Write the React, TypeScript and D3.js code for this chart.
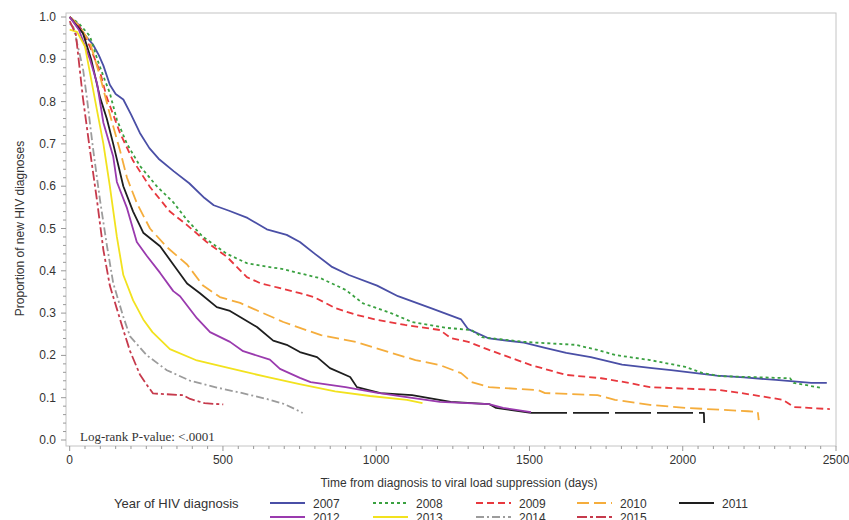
import React from 'react';
import * as d3 from 'd3';

type Pt = [number, number];

const years = ['2007', '2008', '2009', '2010', '2011', '2012', '2013', '2014', '2015'];

const s2007: Pt[] = [[0,1],[25,0.985],[50,0.957],[76,0.935],[95,0.91],[110,0.885],[131,0.84],[150,0.818],[175,0.805],[200,0.77],[229,0.726],[260,0.69],[290,0.665],[340,0.635],[390,0.607],[440,0.572],[470,0.555],[520,0.542],[580,0.525],[643,0.498],[708,0.485],[751,0.468],[800,0.44],[854,0.41],[911,0.39],[1003,0.365],[1071,0.34],[1185,0.31],[1277,0.285],[1300,0.262],[1322,0.255],[1368,0.24],[1482,0.23],[1551,0.218],[1620,0.206],[1700,0.196],[1802,0.178],[1900,0.17],[1962,0.165],[2111,0.152],[2200,0.148],[2304,0.142],[2419,0.135],[2470,0.135]];
const s2008: Pt[] = [[0,1],[30,0.985],[66,0.955],[90,0.9],[110,0.86],[131,0.82],[154,0.757],[187,0.7],[229,0.648],[284,0.6],[338,0.562],[383,0.52],[435,0.48],[513,0.44],[578,0.418],[640,0.41],[697,0.404],[751,0.394],[820,0.382],[900,0.355],[957,0.323],[1048,0.3],[1117,0.279],[1231,0.265],[1311,0.26],[1345,0.243],[1482,0.232],[1551,0.229],[1650,0.225],[1722,0.213],[1779,0.201],[1893,0.189],[2008,0.173],[2065,0.158],[2122,0.151],[2350,0.146],[2362,0.135],[2454,0.123]];
const s2009: Pt[] = [[0,1],[30,0.98],[66,0.93],[99,0.87],[121,0.81],[164,0.726],[207,0.66],[262,0.598],[327,0.54],[383,0.508],[447,0.468],[513,0.433],[578,0.385],[621,0.371],[680,0.36],[751,0.347],[797,0.338],[866,0.312],[934,0.296],[1003,0.284],[1094,0.272],[1208,0.26],[1243,0.241],[1300,0.232],[1368,0.213],[1460,0.189],[1505,0.177],[1619,0.154],[1734,0.146],[1825,0.135],[1893,0.125],[2122,0.118],[2190,0.111],[2327,0.095],[2362,0.078],[2480,0.073]];
const s2010: Pt[] = [[0,1],[30,0.98],[66,0.94],[99,0.86],[131,0.77],[164,0.685],[187,0.62],[219,0.56],[262,0.5],[317,0.456],[383,0.415],[435,0.365],[490,0.338],[556,0.324],[631,0.3],[697,0.279],[751,0.265],[820,0.248],[934,0.232],[1048,0.206],[1128,0.189],[1208,0.177],[1277,0.158],[1311,0.137],[1368,0.125],[1528,0.118],[1551,0.111],[1722,0.106],[1779,0.095],[1893,0.083],[2008,0.076],[2213,0.068],[2245,0.066],[2248,0.047]];
const s2011: Pt[] = [[0,1],[43,0.962],[70,0.9],[99,0.81],[121,0.76],[142,0.7],[175,0.6],[207,0.54],[240,0.49],[295,0.458],[338,0.415],[383,0.37],[425,0.347],[480,0.314],[523,0.305],[556,0.291],[611,0.267],[664,0.235],[708,0.225],[751,0.208],[807,0.196],[849,0.17],[915,0.149],[937,0.125],[1014,0.111],[1117,0.106],[1243,0.09],[1368,0.085],[1391,0.076],[1505,0.064],[2069,0.064],[2070,0.04]];
const s2012: Pt[] = [[0,1],[30,0.97],[66,0.9],[89,0.844],[110,0.75],[142,0.67],[154,0.61],[187,0.548],[219,0.468],[252,0.435],[295,0.395],[338,0.352],[360,0.34],[415,0.288],[458,0.255],[523,0.232],[566,0.21],[653,0.19],[686,0.168],[751,0.147],[786,0.137],[900,0.125],[1000,0.112],[1094,0.102],[1208,0.09],[1368,0.085],[1414,0.076],[1505,0.066]];
const s2013: Pt[] = [[0,0.97],[24,0.965],[50,0.93],[76,0.83],[89,0.78],[110,0.7],[131,0.6],[154,0.48],[175,0.39],[207,0.33],[240,0.285],[270,0.255],[327,0.215],[415,0.188],[490,0.175],[566,0.162],[650,0.148],[750,0.132],[866,0.115],[980,0.104],[1100,0.095],[1151,0.087]];
const s2014: Pt[] = [[0,0.985],[12,0.976],[43,0.88],[56,0.81],[76,0.69],[99,0.567],[121,0.462],[142,0.371],[175,0.291],[197,0.245],[252,0.2],[317,0.165],[393,0.14],[480,0.124],[556,0.112],[643,0.097],[700,0.085],[741,0.071],[760,0.064]];
const s2015: Pt[] = [[0,0.99],[20,0.96],[43,0.81],[66,0.686],[89,0.567],[110,0.449],[131,0.365],[154,0.31],[175,0.26],[197,0.21],[229,0.155],[252,0.13],[272,0.11],[370,0.106],[393,0.097],[440,0.087],[501,0.084]];

const seriesList: Pt[][] = [s2007, s2008, s2009, s2010, s2011, s2012, s2013, s2014, s2015];
const colors = ['#4a4fa6', '#3aa140', '#e8383e', '#f5ad3c', '#1e1e1e', '#9a3aae', '#f2e21e', '#9c9c9c', '#c63a4c'];
const dashes = ['', '3,3', '7,4', '12,5', '', '', '', '8,3,2,3', '10,3,3,3'];
// day after which the 2011 curve is drawn with long dashes, as in the source figure
const sparseFrom2011 = 1505;

const xTicks = [0, 500, 1000, 1500, 2000, 2500];
const yTicks = [0, 0.1, 0.2, 0.3, 0.4, 0.5, 0.6, 0.7, 0.8, 0.9, 1.0];
const legendTextX = [313, 416, 519, 620, 722];

export default function App() {
  const x = d3.scaleLinear().domain([-12, 2500]).range([66, 836]);
  const y = d3.scaleLinear().domain([0, 1]).range([440, 17]);
  const line = d3.line<Pt>().x(d => x(d[0])).y(d => y(d[1])).curve(d3.curveLinear);
  const left = 66, right = 836, top = 13, bottom = 446;
  const minorX = d3.range(0, 2501, 50);
  const minorY = d3.range(0, 1.001, 0.02);
  const font = "'Liberation Sans', Arial, sans-serif";
  const textColor = '#333';

  const paths = seriesList.map((s, i) => {
    if (i === 4) {
      const head = s.filter(d => d[0] <= sparseFrom2011);
      const tail = s.filter(d => d[0] >= sparseFrom2011);
      return [
        { d: line(head) || '', dash: '' },
        { d: line(tail) || '', dash: '36,6' },
      ];
    }
    return [{ d: line(s) || '', dash: dashes[i] }];
  });

  return (
    <div style={{ position: 'absolute', left: 0, top: 0 }}>
      <svg width={849} height={520} style={{ display: 'block', background: '#fff' }}>
        <rect x={left} y={top} width={right - left} height={bottom - top} fill="#fff" stroke="#c4c4c4" strokeWidth={1} />
        {minorX.map(t => (
          <line key={'mx' + t} x1={x(t)} x2={x(t)} y1={bottom} y2={bottom + (t % 500 === 0 ? 5 : 3)} stroke="#999" strokeWidth={1} />
        ))}
        {minorY.map((t, i) => (
          <line key={'my' + i} x1={left} x2={left - (i % 5 === 0 ? 5 : 3)} y1={y(t)} y2={y(t)} stroke="#999" strokeWidth={1} />
        ))}
        {xTicks.map(t => (
          <text key={'xt' + t} x={x(t)} y={464} textAnchor="middle" fontFamily={font} fontSize={12} fill={textColor}>{t}</text>
        ))}
        {yTicks.map(t => (
          <text key={'yt' + t} x={56} y={y(t) + 4} textAnchor="end" fontFamily={font} fontSize={12} fill={textColor}>{t.toFixed(1)}</text>
        ))}
        <text x={459} y={487} textAnchor="middle" fontFamily={font} fontSize={12} fill={textColor}>Time from diagnosis to viral load suppression (days)</text>
        <text transform={`translate(24,${(y(0) + y(1)) / 2}) rotate(-90)`} textAnchor="middle" fontFamily={font} fontSize={12} fill={textColor}>Proportion of new HIV diagnoses</text>
        <g>
          {paths.map((ps, i) => ps.map((p, j) => (
            <path key={'s' + i + '-' + j} d={p.d} fill="none" stroke={colors[i]} strokeWidth={1.8} strokeDasharray={p.dash || undefined} strokeLinejoin="round" />
          )))}
        </g>
        <text x={80} y={441} fontFamily="'Liberation Serif', 'Times New Roman', serif" fontSize={13} fill={textColor}>Log-rank P-value: &lt;.0001</text>
        <text x={114} y={507.5} fontFamily={font} fontSize={13} fill={textColor}>Year of HIV diagnosis</text>
        {years.map((yr, i) => {
          const row = i < 5 ? 0 : 1;
          const col = i < 5 ? i : i - 5;
          const tx = legendTextX[col];
          const cy = row === 0 ? 503 : 517;
          return (
            <g key={'lg' + yr}>
              <line x1={tx - 43} x2={tx - 8} y1={cy} y2={cy} stroke={colors[i]} strokeWidth={1.8} strokeDasharray={dashes[i] || undefined} />
              <text x={tx} y={cy + 4.5} fontFamily={font} fontSize={12} fill={textColor}>{yr}</text>
            </g>
          );
        })}
      </svg>
    </div>
  );
}
